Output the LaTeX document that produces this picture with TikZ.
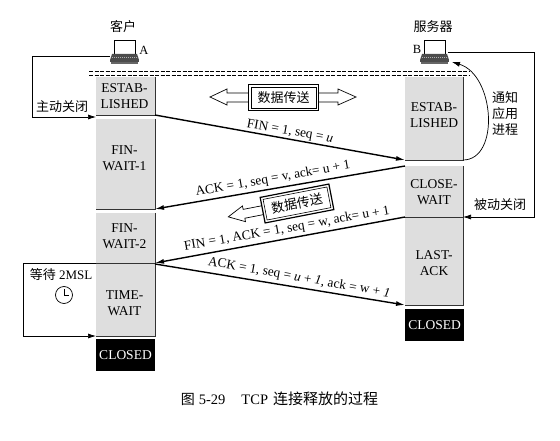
\documentclass[tikz,border=0pt]{standalone}
\usepackage{fontspec}
\setmainfont{Liberation Serif}
\newfontfamily\cjk{Noto Sans CJK SC}
\usetikzlibrary{arrows.meta}
\definecolor{stategray}{gray}{0.87}
\tikzset{
  every node/.style={inner sep=0pt,outer sep=0pt},
  statebox/.style={fill=stategray,anchor=north west},
  statetext/.style={font=\fontsize{13.5}{16}\selectfont,align=center},
  closedbox/.style={fill=black,text=white,font=\fontsize{13.5}{16}\selectfont,align=center,anchor=north west},
  edgeline/.style={line width=0.9pt,black!80},
  msg/.style={line width=1.4pt,-{Latex[length=9pt,width=5pt]}},
  loopline/.style={line width=0.7pt},
  looparrow/.style={line width=0.7pt,-{Latex[length=8pt,width=5pt]}},
  msglabel/.style={font=\fontsize{13.3}{15}\selectfont},
  cjktext/.style={font=\cjk\fontsize{13}{16}\selectfont,align=center},
  hostlabel/.style={font=\fontsize{12.5}{15}\selectfont},
  hollow/.style={draw,line width=0.7pt,fill=white,line join=miter},
  databox/.style={draw,line width=1.2pt,fill=white,font=\cjk\fontsize{13}{16}\selectfont,minimum width=70pt,minimum height=26pt},
  databoxinner/.style={draw,line width=0.6pt},
  linkline/.style={line width=0.9pt,dash pattern=on 4pt off 1.5pt}
}
\newcommand{\pcicon}[2]{%
  \begin{scope}[shift={(#1,#2)}]
    \draw[line width=0.9pt,fill=white] (4,0) -- (25,0) -- (25,14) -- (4,14) -- cycle;
    \fill[black!70] (2,14) -- (27,14) -- (29,20) -- (0,20) -- cycle;
    \draw[black!30,line width=0.7pt,dash pattern=on 1pt off 1pt] (2,17) -- (27,17);
    \fill[black!60] (1,22) rectangle (28,24);
    \fill[black!70] (0,20) rectangle (29,22);
  \end{scope}}
\begin{document}
\begin{tikzpicture}[x=1pt,y=-1pt]
\useasboundingbox (0,0) rectangle (560,441);
\fill[white] (0,0) rectangle (560,441);

% titles and hosts
\node[cjktext] (clientlabel) at (123,27) {客户};
\node[cjktext] (serverlabel) at (433,27) {服务器};
\pcicon{110}{40}
\pcicon{420}{40}
\node[hostlabel] (A) at (144,50) {A};
\node[hostlabel] (B) at (417,49) {B};
\coordinate (hostA) at (110,56);
\coordinate (hostB) at (448,52);
\coordinate (notifyIn) at (452,62);

% link
\draw[linkline] (89,71) -- (470,71);
\draw[linkline] (89,75) -- (470,75);

% client states
\node[statebox,minimum width=59pt,minimum height=38pt] (cEst) at (96,77) {};
\node[statetext] (cEstT) at (124.5,96) {ESTAB-\\LISHED};
\node[statebox,minimum width=59pt,minimum height=90pt] (cFw1) at (96,119) {};
\node[statetext] (cFw1T) at (124.5,158) {FIN-\\WAIT-1};
\node[statebox,minimum width=59pt,minimum height=50pt] (cFw2) at (96,213) {};
\node[statetext] (cFw2T) at (124.5,236) {FIN-\\WAIT-2};
\node[statebox,minimum width=59pt,minimum height=72pt] (cTw) at (96,264) {};
\node[statetext] (cTwT) at (124.5,303) {TIME-\\WAIT};
\node[closedbox,minimum width=59pt,minimum height=32pt] (cCl) at (96,339) {CLOSED};

% server states
\node[statebox,minimum width=58pt,minimum height=83pt] (sEst) at (405,77) {};
\node[statetext] (sEstT) at (434,115) {ESTAB-\\LISHED};
\node[statebox,minimum width=58pt,minimum height=51pt] (sCw) at (405,166) {};
\node[statetext] (sCwT) at (434,192) {CLOSE-\\WAIT};
\node[statebox,minimum width=58pt,minimum height=87pt] (sLa) at (405,218) {};
\node[statetext] (sLaT) at (434,263) {LAST-\\ACK};
\node[closedbox,minimum width=59pt,minimum height=32pt] (sCl) at (405,309) {CLOSED};

% state edges
\foreach \n in {cEst,cFw1,cFw2,cTw,sEst,sCw,sLa}{
  \draw[edgeline] (\n.north east) -- (\n.south east) -- (\n.south west);
}

% messages
\draw[msg] (cEst.south east) -- (sEst.south west);
\draw[msg] (sCw.north west) -- (cFw1.south east);
\draw[msg] (sCw.south west) -- (cFw2.south east);
\draw[msg] (cTw.north east) -- (sLa.south west);
\node[msglabel,rotate=-10] (m1) at (290,132) {FIN = 1, seq = \textit{u}};
\node[msglabel,rotate=10] (m2) at (273,179) {ACK = 1, seq = v, ack= u + 1};
\node[msglabel,rotate=10] (m3) at (287,229) {FIN = 1, ACK = 1, seq = w, ack= u + 1};
\node[msglabel,rotate=-10] (m4) at (299,278) {ACK = 1, seq = \textit{u} + \textit{1}, ack = w + \textit{1}};

% data transfer, horizontal
\draw[hollow] (248,93) -- (227,93) -- (227,89) -- (210,97) -- (227,105) -- (227,102) -- (248,102);
\draw[hollow] (319,93) -- (338,93) -- (338,89) -- (356,97) -- (338,105) -- (338,102) -- (319,102);
\node[databox] (d1) at (283.5,97.5) {数据传送};
\draw[databoxinner] ([shift={(2.5,2.5)}]d1.north west) rectangle ([shift={(-2.5,-2.5)}]d1.south east);

% data transfer, slanted
\begin{scope}[shift={(297,203.5)},rotate=11]
  \draw[hollow] (-35,-4.5) -- (-54,-4.5) -- (-54,-8) -- (-70,0) -- (-54,8) -- (-54,4.5) -- (-35,4.5);
  \node[databox,transform shape] (d2) at (0,0) {数据传送};
  \draw[databoxinner] ([shift={(2.5,2.5)}]d2.north west) -- ([shift={(-2.5,2.5)}]d2.north east) -- ([shift={(-2.5,-2.5)}]d2.south east) -- ([shift={(2.5,-2.5)}]d2.south west) -- cycle;
\end{scope}

% active close
\draw[looparrow] (hostA) -- (32,56) -- (32,117) -- (cEst.south west |- 0,117);
\node[cjktext] (activeT) at (62,107) {主动关闭};

% passive close
\draw[looparrow] (hostB) -- (534,52) -- (534,217) -- (sCw.south east);
\node[cjktext] (passiveT) at (500,205) {被动关闭};

% notify
\draw[looparrow] (sEst.south east) .. controls (500,160) and (495,75) .. (notifyIn);
\node[cjktext] (notifyT) at (505,114) {通知\\应用\\进程};

% wait 2MSL
\draw[looparrow] (cFw2.south west) -- (23,263) -- (23,336) -- (cTw.south west);
\node[font=\fontsize{13}{16}\selectfont] (waitT) at (61,275) {{\cjk 等待} 2MSL};
\node[circle,draw,line width=0.7pt,minimum size=17pt] (clock) at (64,295) {};
\draw[line width=0.7pt] (clock.center) -- ++(0,-6) (clock.center) -- ++(5,0);

% caption
\node[font=\fontsize{14.5}{16}\selectfont] (caption) at (279.5,399) {{\cjk\fontsize{14}{16}\selectfont 图}\hspace{4pt}5-29\hspace{16pt}TCP\hspace{5pt}{\cjk\fontsize{15}{16}\selectfont 连接释放的过程}};
\end{tikzpicture}
\end{document}
